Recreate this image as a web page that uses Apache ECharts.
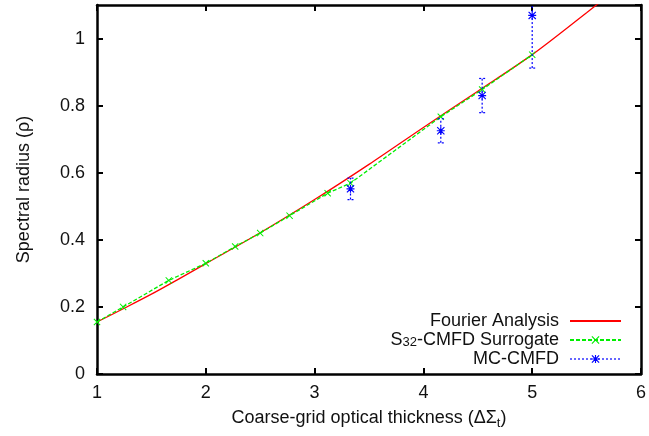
<!DOCTYPE html>
<html>
<head>
<meta charset="utf-8">
<script src="https://cdn.jsdelivr.net/npm/echarts@6/dist/echarts.min.js"></script>
<style>html,body{margin:0;padding:0;background:#fff}#c{width:649px;height:436px}</style>
</head>
<body>
<div id="c"></div>
<script>
// ---- data ----
var fourierX = [1, 1.25, 1.5, 1.75, 2, 2.5, 3, 3.5, 4, 4.5, 5, 5.5, 5.7];
var fourierY = [0.155, 0.196, 0.238, 0.283, 0.329, 0.421, 0.52, 0.625, 0.735, 0.843, 0.952, 1.077, 1.128];
var surrX = [1, 1.24, 1.66, 2, 2.27, 2.5, 2.77, 3.12, 3.33, 4.16, 4.54, 5];
var surrY = [0.155, 0.2, 0.279, 0.33, 0.38, 0.42, 0.472, 0.539, 0.569, 0.767, 0.848, 0.952];
var mcX = [3.33, 4.16, 4.54, 5];
var mcY = [0.552, 0.725, 0.83, 1.069];
var mcErr = [0.032, 0.036, 0.051, 0.157];
var xTicks = [1, 2, 3, 4, 5, 6];
var yTicks = [0, 0.2, 0.4, 0.6, 0.8, 1];
var seriesNames = ['Fourier Analysis', 'S32-CMFD Surrogate', 'MC-CMFD'];

function zip(a, b) { return a.map(function (v, i) { return [v, b[i]]; }); }

var FONT = 'Liberation Sans, Arial, Helvetica, sans-serif';
var crossPath = 'path://M0,1 L1,0 L5,4 L9,0 L10,1 L6,5 L10,9 L9,10 L5,6 L1,10 L0,9 L4,5 Z';
var starPath = 'path://M0,1 L1,0 L5,4 L9,0 L10,1 L6,5 L10,9 L9,10 L5,6 L1,10 L0,9 L4,5 Z M4.3,0 L5.7,0 L5.7,10 L4.3,10 Z M0,4.3 L10,4.3 L10,5.7 L0,5.7 Z';

var chart = echarts.init(document.getElementById('c'), null, {renderer: 'canvas'});

var axisLineStyle = {color: '#000', width: 2.5};
var option = {
  animation: false,
  backgroundColor: '#fff',
  textStyle: {fontFamily: FONT},
  grid: {left: 97, right: 7, top: 5, bottom: 62},
  xAxis: [{
    type: 'value', min: 1, max: 6, interval: 1,
    position: 'bottom',
    axisLine: {show: true, onZero: false, lineStyle: axisLineStyle},
    axisTick: {show: true, inside: true, length: 6, lineStyle: {color: '#000', width: 2}},
    splitLine: {show: false},
    axisLabel: {fontSize: 18, color: '#111', margin: 10, fontFamily: FONT,
      formatter: function (v) { return xTicks.indexOf(v) >= 0 ? String(v) : ''; }},
    name: '{a|Coarse-grid optical thickness (ΔΣ}{s|t}{a|)}',
    nameLocation: 'middle', nameGap: 33,
    nameTextStyle: {
      rich: {
        a: {fontSize: 18, color: '#111', fontFamily: FONT, lineHeight: 22},
        s: {fontSize: 13, color: '#111', fontFamily: FONT, lineHeight: 22, padding: [10, 0, 0, 0]}
      }
    }
  }, {
    type: 'value', min: 1, max: 6, interval: 1,
    position: 'top',
    axisLine: {show: true, onZero: false, lineStyle: axisLineStyle},
    axisTick: {show: true, inside: true, length: 6, lineStyle: {color: '#000', width: 2}},
    splitLine: {show: false},
    axisLabel: {show: false}
  }],
  yAxis: [{
    type: 'value', min: 0, max: 1.1, interval: 0.2,
    position: 'left',
    axisLine: {show: true, onZero: false, lineStyle: axisLineStyle},
    axisTick: {show: true, inside: true, length: 6, lineStyle: {color: '#000', width: 2}},
    splitLine: {show: false},
    axisLabel: {fontSize: 18, color: '#111', margin: 12, fontFamily: FONT, showMaxLabel: false,
      formatter: function (v) {
        for (var i = 0; i < yTicks.length; i++) { if (Math.abs(yTicks[i] - v) < 1e-6) return String(yTicks[i]); }
        return '';
      }},
    name: 'Spectral radius (ρ)',
    nameLocation: 'middle', nameGap: 64,
    nameTextStyle: {fontSize: 18, color: '#111', fontFamily: FONT}
  }, {
    type: 'value', min: 0, max: 1.1, interval: 0.2,
    position: 'right',
    axisLine: {show: true, onZero: false, lineStyle: axisLineStyle},
    axisTick: {show: true, inside: true, length: 6, lineStyle: {color: '#000', width: 2}},
    splitLine: {show: false},
    axisLabel: {show: false}
  }],
  legend: {
    orient: 'vertical',
    right: 22,
    bottom: 63,
    align: 'right',
    itemWidth: 51,
    itemHeight: 10,
    itemGap: 1,
    selectedMode: false,
    textStyle: {
      fontSize: 18, color: '#111', fontFamily: FONT, lineHeight: 18, padding: [0, 6, 0, 0],
      rich: {
        n: {fontSize: 18, color: '#111', fontFamily: FONT, lineHeight: 18},
        sub: {fontSize: 13, color: '#111', fontFamily: FONT, lineHeight: 8, verticalAlign: 'bottom'}
      }
    },
    formatter: function (name) {
      if (name === seriesNames[1]) return '{n|S}{sub|32}{n|-CMFD Surrogate}';
      return name;
    },
    data: [
      {name: seriesNames[0], itemStyle: {opacity: 0}},
      {name: seriesNames[1]},
      {name: seriesNames[2], lineStyle: {opacity: 1, width: 1.2, type: [2, 2], color: '#0000ff'}}
    ]
  },
  series: [{
    name: seriesNames[0],
    type: 'line',
    data: zip(fourierX, fourierY),
    smooth: 0.3,
    symbol: 'none',
    showSymbol: false,
    clip: true,
    lineStyle: {color: '#ff0000', width: 1.3},
    itemStyle: {color: '#ff0000'},
    z: 3
  }, {
    name: seriesNames[1],
    type: 'line',
    data: zip(surrX, surrY),
    symbol: crossPath,
    symbolSize: 7,
    lineStyle: {color: '#00ee00', width: 1.3, type: [4, 2]},
    itemStyle: {color: '#00ee00'},
    clip: true,
    z: 4
  }, {
    name: seriesNames[2],
    type: 'line',
    data: zip(mcX, mcY),
    symbol: starPath,
    symbolSize: 8,
    lineStyle: {color: '#0000ff', width: 1.2, opacity: 0},
    itemStyle: {color: '#0000ff'},
    z: 6
  }, {
    name: seriesNames[2],
    type: 'custom',
    clip: true,
    data: mcX.map(function (x, i) { return [x, mcY[i], mcY[i] - mcErr[i], mcY[i] + mcErr[i]]; }),
    encode: {x: 0, y: [1, 2, 3]},
    renderItem: function (params, api) {
      var x = api.value(0);
      var lo = api.coord([x, api.value(2)]);
      var hi = api.coord([x, api.value(3)]);
      var cap = 3;
      var style = {stroke: '#0000ff', lineWidth: 1.2, lineDash: [2, 2]};
      return {
        type: 'group',
        children: [
          {type: 'line', shape: {x1: lo[0], y1: lo[1], x2: hi[0], y2: hi[1]}, style: style},
          {type: 'line', shape: {x1: lo[0] - cap, y1: lo[1], x2: lo[0] + cap, y2: lo[1]}, style: style},
          {type: 'line', shape: {x1: hi[0] - cap, y1: hi[1], x2: hi[0] + cap, y2: hi[1]}, style: style}
        ]
      };
    },
    z: 5
  }]
};
chart.setOption(option);
</script>
</body>
</html>
